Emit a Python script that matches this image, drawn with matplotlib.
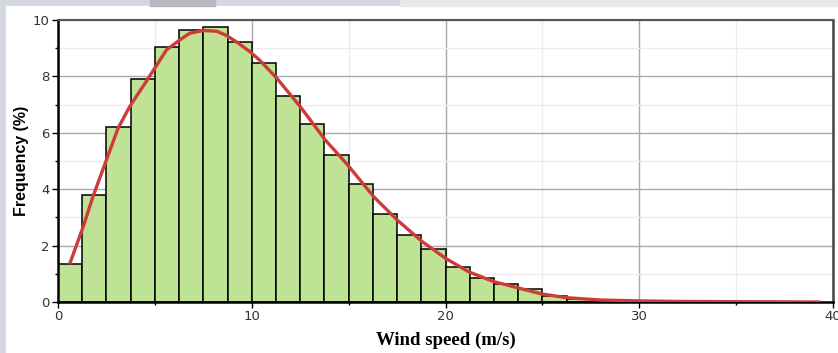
import matplotlib
matplotlib.use("Agg")
import matplotlib.pyplot as plt
from matplotlib.patches import Rectangle
from matplotlib.ticker import MultipleLocator
import numpy as np

# histogram of wind speed, bins of 1.25 m/s starting at 0
bin_width = 1.25
freq = [1.35, 3.8, 6.22, 7.9, 9.03, 9.65, 9.76, 9.23, 8.47, 7.3,
        6.3, 5.21, 4.17, 3.13, 2.39, 1.87, 1.24, 0.84, 0.63, 0.46,
        0.22, 0.1, 0.06, 0.03, 0.02]

# fitted curve, points
fit_x = [0.62, 1.3, 1.8, 2.5, 3.1, 3.7, 4.6, 5.6, 6.3, 6.8, 7.5, 8.2, 8.7,
         9.2, 9.9, 10.4, 11.3, 12.5, 13.8, 14.9, 16.3, 17.5, 18.8, 20.0,
         21.2, 22.5, 23.8, 25.0, 26.3, 28.0, 30.0, 32.0, 35.0, 39.3]
fit_y = [1.38, 2.67, 3.73, 5.04, 6.16, 6.93, 7.87, 8.94, 9.3, 9.53, 9.63,
         9.6, 9.45, 9.23, 8.88, 8.58, 7.93, 6.93, 5.74, 4.9, 3.73, 2.91,
         2.14, 1.55, 1.07, 0.72, 0.49, 0.28, 0.15, 0.07, 0.04, 0.02, 0.01,
         0.0]

W, H = 838, 353
fig = plt.figure(figsize=(W / 100, H / 100), dpi=100)
fig.patch.set_facecolor("#d3d8de")

# white panel with the gray window frame around the top and left
fig.add_artist(Rectangle((6 / W, 0), 1 - 6 / W, 1 - 6 / H,
                         transform=fig.transFigure, color="white", zorder=-2))
fig.add_artist(Rectangle((150 / W, 1 - 6 / H), 65 / W, 6 / H,
                         transform=fig.transFigure, color="#b5b9bd", zorder=-1))
fig.add_artist(Rectangle((400 / W, 1 - 6 / H), 438 / W, 6 / H,
                         transform=fig.transFigure, color="#e6e9ec", zorder=-1))

ax = fig.add_axes([58 / W, 51 / H, 775 / W, 282 / H])

lefts = np.arange(len(freq)) * bin_width
ax.bar(lefts, freq, width=bin_width, align="edge", color="#bee395",
       edgecolor="black", linewidth=1.1, zorder=2)
ax.plot(fit_x, fit_y, color="#cf3b38", linewidth=2.4, zorder=3,
        solid_joinstyle="round", solid_capstyle="round")

ax.set_xlim(0, 40)
ax.set_ylim(0, 10)
ax.xaxis.set_major_locator(MultipleLocator(10))
ax.xaxis.set_minor_locator(MultipleLocator(5))
ax.yaxis.set_major_locator(MultipleLocator(2))
ax.yaxis.set_minor_locator(MultipleLocator(1))

ax.grid(which="major", color="#a9a9a9", linewidth=1.0, zorder=0)
ax.grid(which="minor", color="#ececec", linewidth=1.0, zorder=0)
ax.set_axisbelow(True)

ax.tick_params(which="major", direction="out", length=4, width=1,
               labelsize=9.5, labelcolor="#333333", pad=2)
ax.tick_params(which="minor", direction="out", length=2.5, width=1)

for side in ("left", "bottom"):
    ax.spines[side].set_linewidth(1.8)
    ax.spines[side].set_color("black")
ax.spines["top"].set_linewidth(1.5)
ax.spines["top"].set_color("#555555")
ax.spines["right"].set_linewidth(1.8)
ax.spines["right"].set_color("#444444")

ax.set_xlabel("Wind speed (m/s)", family="Liberation Serif", fontweight="bold",
              fontsize=13.5, labelpad=6)
ax.set_ylabel("Frequency (%)", family="Liberation Sans", fontweight="bold",
              fontsize=11.5, labelpad=3)

fig.savefig("out.png", dpi=100, facecolor=fig.get_facecolor())
